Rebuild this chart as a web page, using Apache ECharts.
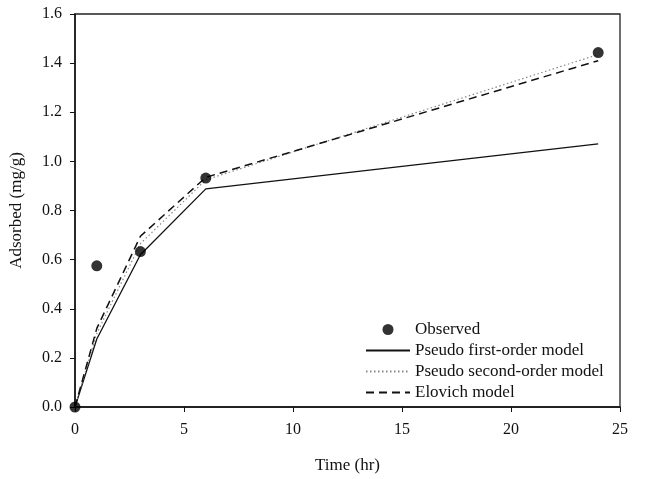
<!DOCTYPE html>
<html><head><meta charset="utf-8">
<script src="https://cdn.jsdelivr.net/npm/echarts@6/dist/echarts.min.js"></script>
<style>html,body{margin:0;padding:0;background:#fff}#c{width:672px;height:479px}</style>
</head><body><div id="c"></div>
<script>
var timeObs = [0, 1, 3, 6, 24];
var observed = [0, 0.575, 0.633, 0.932, 1.443];
var timeModel = [0, 1, 3, 6, 24];
var pseudoFirst = [0, 0.277, 0.62, 0.888, 1.071];
var pseudoSecond = [0, 0.30, 0.665, 0.925, 1.435];
var elovich = [0, 0.32, 0.695, 0.935, 1.41];
var xTicks = [0, 5, 10, 15, 20, 25];
var yTicks = [0, 0.2, 0.4, 0.6, 0.8, 1.0, 1.2, 1.4, 1.6];

function pairs(xs, ys){ return xs.map(function(x,i){ return [x, ys[i]]; }); }
var font = "'Liberation Serif','Times New Roman',serif";
var hide = {opacity:0, color:'rgba(0,0,0,0)', borderWidth:0};
var chart = echarts.init(document.getElementById('c'), null, {renderer:'canvas'});
chart.setOption({
  animation:false,
  backgroundColor:'#fff',
  grid:{left:73, right:52, top:14, bottom:71, show:true, borderColor:'#222', borderWidth:1.3},
  xAxis:{type:'value', min:xTicks[0], max:xTicks[xTicks.length-1], interval:5,
    name:'Time (hr)', nameLocation:'middle', nameGap:50,
    nameTextStyle:{fontFamily:font, fontSize:17, color:'#111'},
    axisLine:{lineStyle:{color:'#111', width:1.5}},
    axisTick:{show:true, inside:false, length:5, lineStyle:{color:'#111'}},
    axisLabel:{fontFamily:font, fontSize:16, color:'#111', margin:15},
    splitLine:{show:false}},
  yAxis:{type:'value', min:yTicks[0], max:yTicks[yTicks.length-1], interval:0.2,
    name:'Adsorbed (mg/g)', nameLocation:'middle', nameGap:50, nameRotate:90,
    nameTextStyle:{fontFamily:font, fontSize:17, color:'#111'},
    axisLine:{show:true, lineStyle:{color:'#111', width:1.5}},
    axisTick:{show:true, inside:false, length:5, lineStyle:{color:'#111'}},
    axisLabel:{fontFamily:font, fontSize:16, color:'#111', margin:13,
      formatter:function(v){return v.toFixed(1);}},
    splitLine:{show:false}},
  legend:{orient:'vertical', left:360, top:316, itemWidth:44, itemHeight:11, itemGap:4, itemTextGap:10,
    textStyle:{fontFamily:font, fontSize:17, color:'#111'},
    data:[{name:'Observed', icon:'circle'},
          {name:'Pseudo first-order model', itemStyle:hide},
          {name:'Pseudo second-order model', itemStyle:hide},
          {name:'Elovich model', itemStyle:hide}]},
  series:[
    {name:'Pseudo first-order model', type:'line', data:pairs(timeModel, pseudoFirst), symbol:'none',
      lineStyle:{color:'#111', width:1.3, type:'solid'}, itemStyle:{color:'#111'}},
    {name:'Pseudo second-order model', type:'line', data:pairs(timeModel, pseudoSecond), symbol:'none',
      lineStyle:{color:'#888', width:1.2, type:[1.5,2.5]}, itemStyle:{color:'#888'}},
    {name:'Elovich model', type:'line', data:pairs(timeModel, elovich), symbol:'none',
      lineStyle:{color:'#111', width:1.5, type:[8,5]}, itemStyle:{color:'#111'}},
    {name:'Observed', type:'scatter', data:pairs(timeObs, observed), symbol:'circle', symbolSize:11,
      clip:false, itemStyle:{color:'#000'}, z:5}
  ]
});
</script></body></html>
